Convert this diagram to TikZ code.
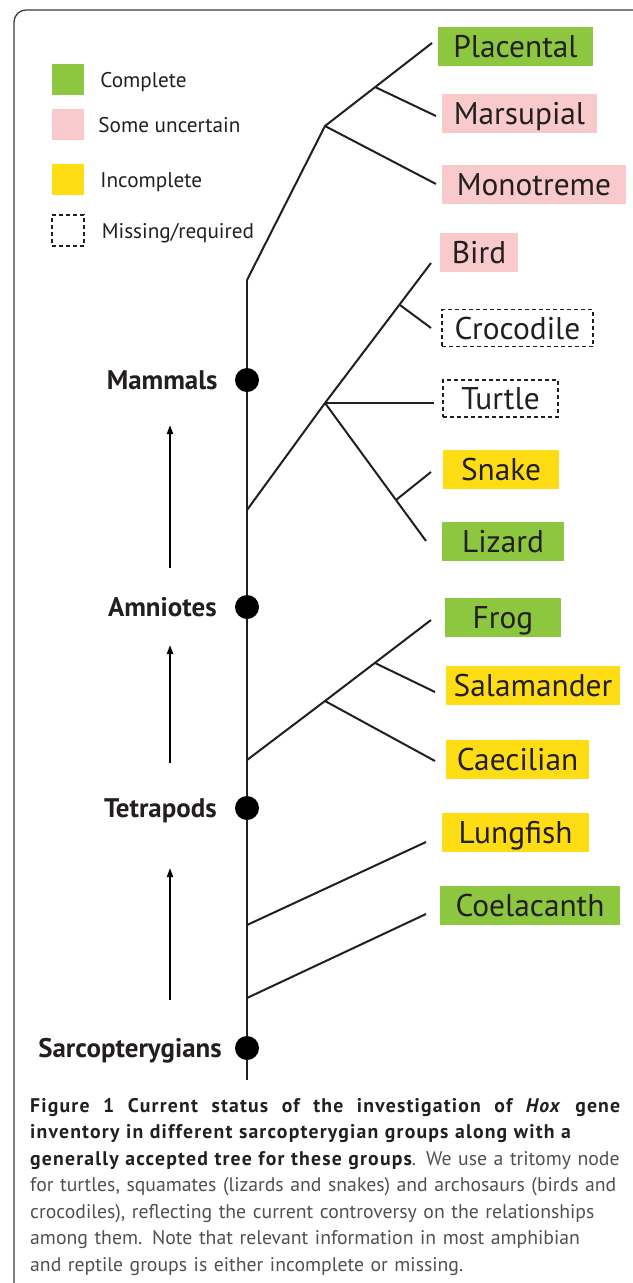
\documentclass[tikz,border=0pt]{standalone}
\usepackage{fontspec}
\setmainfont{PT Sans}
\usetikzlibrary{arrows.meta, positioning}
\definecolor{completegreen}{RGB}{141,198,63}
\definecolor{uncertainpink}{RGB}{248,202,204}
\definecolor{incompleteyellow}{RGB}{255,221,21}
\definecolor{inkblack}{RGB}{35,31,32}
\definecolor{captiongray}{RGB}{80,80,80}
\definecolor{framegray}{RGB}{60,60,60}
\newcommand{\captionhead}{\color{inkblack}\bfseries\addfontfeature{LetterSpace=6}}
\tikzset{
  taxon/.style={rectangle, minimum height=39bp, inner sep=0pt, text centered,
    font=\fontsize{31.5}{36}\selectfont, text=inkblack,
    text height=28bp, text depth=6bp},
  donebox/.style={taxon, fill=completegreen},
  somebox/.style={taxon, fill=uncertainpink},
  partbox/.style={taxon, fill=incompleteyellow},
  missbox/.style={taxon, minimum height=37bp, draw=inkblack, line width=1.2bp,
    dash pattern=on 4bp off 3bp},
  swatch/.style={rectangle, minimum width=32bp, minimum height=31bp, inner sep=0pt},
  legendtext/.style={inner sep=0pt, font=\fontsize{21.3}{25}\selectfont,
    text=inkblack, text height=19bp, text depth=4bp},
  groupdot/.style={circle, fill=black, minimum size=24bp, inner sep=0pt},
  grouplabel/.style={inner sep=0pt, font=\fontsize{27}{32}\selectfont\bfseries,
    text=inkblack, text height=24bp, text depth=5bp},
  branch/.style={line width=2bp, color=inkblack},
  uparrow/.style={-{Triangle[length=9bp, width=6bp]}, line width=2bp, color=black},
  captiontext/.style={inner sep=0pt, text width=600bp, align=left,
    font=\fontsize{19.8}{26.6}\selectfont, text=captiongray},
}

\begin{document}
\begin{tikzpicture}[x=1bp, y=-1bp]

  \useasboundingbox (0,0) rectangle (633,1283);
  \begin{scope}
    \clip (0,0) rectangle (633,1283);
    \draw[framegray, line width=1.3bp, rounded corners=12bp] (14,10) rectangle (760,1330);
  \end{scope}

  %% ── Legend ──────────────────────────────────────────────────
  \node[swatch, fill=completegreen] (legdone) at (68,79.5) {};
  \node[swatch, fill=uncertainpink] (legsome) at (68,124.5) {};
  \node[swatch, fill=incompleteyellow] (legpart) at (68,179.5) {};
  \node[swatch, draw=inkblack, line width=1.2bp, dash pattern=on 4bp off 3bp]
    (legmiss) at (68,230.5) {};
  \node[legendtext, right=16bp of legdone] (txtdone) {Complete};
  \node[legendtext, right=14bp of legsome] (txtsome) {Some uncertain};
  \node[legendtext, right=16bp of legpart] (txtpart) {Incomplete};
  \node[legendtext, right=17bp of legmiss] (txtmiss) {Missing/required};

  %% ── Trunk ───────────────────────────────────────────────────
  \coordinate (root)  at (247,1080);
  \coordinate (crown) at (247,280);
  \draw[branch] (root) -- (crown);

  %% ── Mammals ─────────────────────────────────────────────────
  \coordinate (mamfork)  at (325,126);
  \coordinate (therfork) at (375,87);
  \coordinate (placend)  at (432,43);
  \coordinate (marsend)  at (436,116);
  \coordinate (monoend)  at (436,184);
  \draw[branch] (crown) -- (mamfork) -- (placend);
  \draw[branch] (therfork) -- (marsend);
  \draw[branch] (mamfork) -- (monoend);

  \node[donebox, minimum width=155bp] (placental) at (515.5,46.5) {Placental};
  \node[somebox, minimum width=155bp] (marsupial) at (519.5,113.5) {Marsupial};
  \node[somebox, minimum width=184bp] (monotreme) at (534,184.5) {Monotreme};

  %% ── Reptiles (tritomy) ──────────────────────────────────────
  \coordinate (reptbase) at (247,510);
  \coordinate (tritomy)  at (325,403);
  \coordinate (archfork) at (400,305);
  \coordinate (birdend)  at (431,263);
  \coordinate (crocend)  at (431,328);
  \coordinate (turtend)  at (434,403);
  \coordinate (squafork) at (396,500);
  \coordinate (snakend)  at (431,472);
  \coordinate (lizend)   at (426,541);
  \draw[branch] (reptbase) -- (tritomy) -- (birdend);
  \draw[branch] (archfork) -- (crocend);
  \draw[branch] (tritomy) -- (turtend);
  \draw[branch] (tritomy) -- (lizend);
  \draw[branch] (squafork) -- (snakend);

  \node[somebox, minimum width=78bp]  (bird)      at (479,252.5) {Bird};
  \node[missbox, minimum width=151bp] (crocodile) at (517.5,328) {Crocodile};
  \node[missbox, minimum width=115bp] (turtle)    at (500.5,398.5) {Turtle};
  \node[partbox, minimum width=116bp] (snake)     at (501,469.5) {Snake};
  \node[donebox, minimum width=122bp] (lizard)    at (503,541.5) {Lizard};

  %% ── Amphibians ──────────────────────────────────────────────
  \coordinate (amphbase) at (247,760);
  \coordinate (amphfork) at (325,701);
  \coordinate (batrfork) at (375,663);
  \coordinate (frogend)  at (431,620);
  \coordinate (salend)   at (435,692);
  \coordinate (caecend)  at (435,761);
  \draw[branch] (amphbase) -- (amphfork) -- (frogend);
  \draw[branch] (batrfork) -- (salend);
  \draw[branch] (amphfork) -- (caecend);

  \node[donebox, minimum width=116bp] (frog)       at (503,617.5) {Frog};
  \node[partbox, minimum width=174bp] (salamander) at (533,685.5) {Salamander};
  \node[partbox, minimum width=143bp] (caecilian)  at (517.5,759.5) {Caecilian};

  %% ── Lobe-finned fish ────────────────────────────────────────
  \coordinate (lungbase) at (247,925);
  \coordinate (lungend)  at (426,842);
  \coordinate (coelbase) at (247,998);
  \coordinate (coelend)  at (426,914);
  \draw[branch] (lungbase) -- (lungend);
  \draw[branch] (coelbase) -- (coelend);

  \node[partbox, minimum width=147bp] (lungfish)   at (515.5,832.5) {Lungfish};
  \node[donebox, minimum width=180bp] (coelacanth) at (530,905) {Coelacanth};

  %% ── Group nodes on the trunk ────────────────────────────────
  \node[groupdot] (mamdot)   at (247,380) {};
  \node[groupdot] (amnidot)  at (247,607) {};
  \node[groupdot] (tetrdot)  at (247,808) {};
  \node[groupdot] (sarcdot)  at (247,1048) {};
  \node[grouplabel, left=17bp of mamdot]  (mammals)  {Mammals};
  \node[grouplabel, left=18bp of amnidot] (amniotes) {Amniotes};
  \node[grouplabel, left=18bp of tetrdot] (tetrapods) {Tetrapods};
  \node[grouplabel, left=13bp of sarcdot] (sarco) {Sarcopterygians};

  % direction of time
  \coordinate (upa) at (170,568);  \coordinate (upb) at (170,425);
  \coordinate (upc) at (170,763);  \coordinate (upd) at (170,645);
  \coordinate (upe) at (170,1000); \coordinate (upf) at (170,868);
  \draw[uparrow] (upa) -- (upb);
  \draw[uparrow] (upc) -- (upd);
  \draw[uparrow] (upe) -- (upf);

  %% ── Caption ─────────────────────────────────────────────────
  \node[captiontext, anchor=north west] (caption) at (30,1098)
    {\makebox[590bp][s]{\spaceskip=0pt\xspaceskip=0pt\captionhead
       Figure 1 Current status of the investigation of \textit{Hox} gene}\\
     {\captionhead inventory in different sarcopterygian groups along with a}\\
     {\captionhead generally accepted tree for these groups}. We use a tritomy node\\
     for turtles, squamates (lizards and snakes) and archosaurs (birds and\\
     crocodiles), reflecting the current controversy on the relationships\\
     among them. Note that relevant information in most amphibian\\
     and reptile groups is either incomplete or missing.};

\end{tikzpicture}
\end{document}
